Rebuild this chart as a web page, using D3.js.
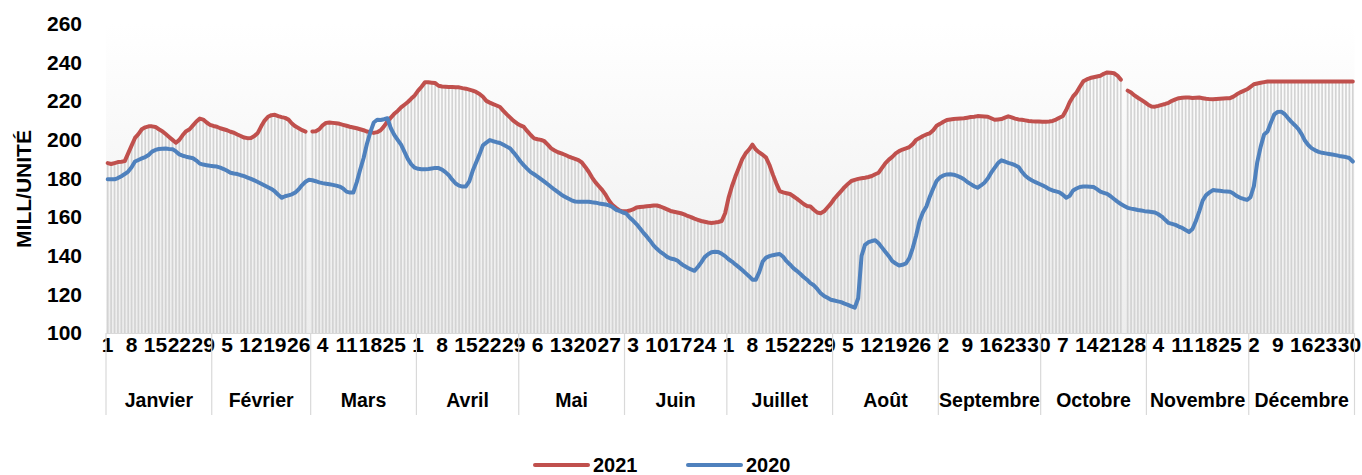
<!DOCTYPE html>
<html>
<head>
<meta charset="utf-8">
<script src="https://cdn.jsdelivr.net/npm/d3@7"></script>
<style>
  body { margin: 0; background: #fff; }
  svg { display: block; font-family: "Liberation Sans", Arial, sans-serif; font-weight: bold; }
</style>
</head>
<body>
<div id="wrapper"></div>
<script>
const monthNames = ["Janvier", "Février", "Mars", "Avril", "Mai", "Juin", "Juillet",
  "Août", "Septembre", "Octobre", "Novembre", "Décembre"];
const monthLengths = [31, 29, 31, 30, 31, 30, 31, 31, 30, 31, 30, 31];
const seriesNames = ["2021", "2020"];
const yTicks = [100, 120, 140, 160, 180, 200, 220, 240, 260];

// one value per day, 366 days (2021 has no 29 Feb, one missing day in October)
const values2021 = [
  // Janvier
  188, 187.5, 188, 188.5, 188.7, 189, 193, 197, 201, 203, 205.5, 206.5, 207, 207, 206.7, 205.5,
  204.5, 203, 201.5, 200, 198.5, 200, 202.5, 204.5, 205.5, 207.5, 209.5, 211, 210.5, 209, 207.8,
  // Février
  207.2, 206.8, 206, 205.5, 205, 204.2, 203.7, 202.8, 202, 201.2, 200.9, 201, 202, 203.6, 207,
  210, 212, 212.8, 213, 212.3, 211.8, 211.4, 210.5, 208.5, 207, 206, 205, 204.3, null,
  // Mars
  204.3, 204.5, 205.5, 207.5, 208.8, 209, 208.8, 208.6, 208.3, 207.8, 207.3, 206.8, 206.4, 206,
  205.5, 205, 204.3, 204, 203.6, 204, 205, 207, 209.5, 211.5, 213.5, 215, 216.8, 218.2, 219.6,
  221.4, 223,
  // Avril
  225.5, 227.5, 229.8, 229.8, 229.6, 229.4, 228, 227.6, 227.5, 227.4, 227.4, 227.3, 227.2, 226.8,
  226.5, 226, 225.5, 224.8, 223.8, 222.3, 220.2, 219.3, 218.5, 217.8, 217, 215, 213.2, 211.5,
  209.8, 208.5,
  // Mai
  207.5, 206.7, 204.5, 202.5, 200.8, 200.3, 200, 199.3, 197.5, 195.6, 194.5, 193.6, 193, 192.3,
  191.5, 190.8, 190.2, 189.5, 188.3, 186, 183.5, 180.5, 178, 176, 174, 171.5, 168.5, 166.2, 164.8,
  163.5, 163,
  // Juin
  163, 163.4, 164, 165, 165.2, 165.4, 165.6, 165.8, 166, 166, 165.5, 164.8, 164, 163.2, 162.8,
  162.4, 162, 161.4, 160.6, 160, 159.2, 158.6, 158, 157.6, 157.2, 157, 157.2, 157.5, 158, 162,
  // Juillet
  170, 176, 181, 185.5, 190, 193, 195, 197.5, 195, 193.5, 192.3, 190.8, 187, 182, 177.5, 173.5,
  172.8, 172.4, 172, 170.8, 169.6, 168.2, 166.8, 165.8, 165.5, 163.8, 162.4, 162, 163, 165, 167,
  // Août
  169.5, 171.5, 173.5, 175.5, 177.2, 178.7, 179.3, 179.8, 180.1, 180.4, 180.8, 181.3, 182.2, 183,
  185.5, 188, 189.8, 191.2, 193, 194.2, 195, 195.6, 196.3, 197.8, 200, 201, 202, 202.8, 203.4,
  205, 207.3,
  // Septembre
  208.3, 209.4, 210.3, 210.6, 210.8, 211, 211.1, 211.2, 211.5, 211.8, 212, 212.3, 212.2, 212.1,
  212, 211.2, 210.4, 210.6, 210.8, 211.5, 212.2, 211.6, 211, 210.6, 210.4, 210.1, 209.8, 209.6,
  209.5, 209.5,
  // Octobre
  209.4, 209.4, 209.5, 209.8, 210.5, 211.5, 212.4, 215.5, 219.5, 222.5, 224.5, 227.5, 230.3,
  231.3, 232, 232.4, 232.8, 233.2, 234.2, 234.9, 234.8, 234.5, 233.3, 231.2, null, 225.5, 224.5,
  223, 221.8, 220.7, 219.5,
  // Novembre
  218.2, 217.3, 217.2, 217.6, 218.1, 218.6, 219.2, 220.2, 221, 221.6, 221.8, 221.9, 221.9, 221.7,
  221.8, 221.9, 221.6, 221.3, 221.1, 221, 221.2, 221.3, 221.4, 221.5, 221.6, 222.4, 223.6, 224.6,
  225.4, 226.2,
  // Décembre
  227.5, 228.8, 229.2, 229.6, 229.9, 230.2, 230.2, 230.2, 230.2, 230.2, 230.2, 230.2, 230.2,
  230.2, 230.2, 230.2, 230.2, 230.2, 230.2, 230.2, 230.2, 230.2, 230.2, 230.2, 230.2, 230.2,
  230.2, 230.2, 230.2, 230.2, 230.2
];

const values2020 = [
  // Janvier
  179.6, 179.6, 179.6, 180.2, 181.2, 182.3, 183.6, 185.8, 188.8, 189.6, 190.4, 191.1, 192.2, 193.9,
  194.8, 195.3, 195.4, 195.5, 195.3, 195.2, 194, 192.5, 191.8, 191.3, 190.9, 190.5, 189.3, 187.7,
  187.2, 186.9, 186.6,
  // Février
  186.4, 186.2, 185.6, 184.9, 184, 183, 182.6, 182.3, 181.7, 181.2, 180.5, 179.8, 179, 178.2,
  177.3, 176.4, 175.5, 174.6, 173.3, 171.6, 170, 170.8, 171.3, 171.8, 172.8, 174.4, 176.6, 178.3,
  179.3,
  // Mars
  179.1, 178.6, 178, 177.6, 177.3, 177, 176.7, 176.3, 175.8, 174.8, 173.2, 172.7, 172.7, 178,
  184.5, 190.5, 198, 204, 209, 210.4, 210.3, 210.7, 211.2, 206, 202.6, 200, 197.5, 193.8, 190,
  187.3, 185.6,
  // Avril
  185, 184.8, 184.8, 184.9, 185.2, 185.5, 185.4, 184.6, 183.3, 181.7, 179.4, 177.4, 176.3, 175.8,
  175.9, 178.5, 184, 188.3, 192.5, 197.2, 198.6, 199.9, 199.3, 198.8, 198.4, 197.5, 196.5, 195.5,
  193.4, 191.2,
  // Mai
  188.8, 186.8, 185, 183.3, 182.2, 181, 179.7, 178.4, 177, 175.6, 174.2, 172.9, 171.6, 170.6,
  169.6, 168.7, 168.1, 168, 168, 168, 168, 167.7, 167.5, 167.1, 166.8, 166.5, 166.1, 165.2, 163.8,
  163.2, 162.4,
  // Juin
  161.9, 159.8, 158.2, 156.4, 154.2, 152, 150, 147.8, 145.4, 143.6, 142, 140.8, 139.4, 138.6,
  138.2, 137.5, 136, 134.8, 133.8, 132.9, 132.2, 134.2, 136.6, 139.3, 140.8, 141.8, 142.1, 142,
  141, 139.8,
  // Juillet
  138.2, 137, 135.5, 134.1, 132.6, 131, 129.4, 127.6, 127.6, 131.5, 137, 139, 139.8, 140.3, 140.6,
  140.9, 139.5, 137.2, 135.5, 133.6, 132.2, 130.7, 129, 127.6, 125.8, 124.7, 122.8, 120.6, 119.2,
  118.2, 117.2,
  // Août
  116.8, 116.4, 116, 115.2, 114.6, 113.8, 113.1, 118, 140, 145.6, 147, 147.6, 148, 146.5, 144.2,
  142, 139.8, 137.2, 136, 135, 135.3, 136, 138.8, 144, 150.5, 158, 162.5, 165.5, 170.6, 174.8,
  178.8,
  // Septembre
  180.6, 181.6, 182.1, 182.2, 182, 181.4, 180.6, 179.6, 178.2, 177.1, 176, 175.2, 176.4, 177.8,
  180, 183, 185.5, 188, 189.4, 188.8, 188.1, 187.6, 186.9, 186, 183.5, 181.4, 180, 179, 178.1,
  177.3,
  // Octobre
  176.5, 175.6, 174.5, 173.8, 173.3, 172.8, 171.6, 170, 171, 173.8, 174.8, 175.6, 175.8, 175.8,
  175.7, 175.6, 174.5, 173.2, 172.6, 172, 170.8, 169.4, 168, 166.8, 165.8, 164.8, 164.4, 164.1,
  163.7, 163.4, 163.1,
  // Novembre
  162.9, 162.7, 162.4, 161.5, 160.3, 158.6, 157, 156.5, 156, 155.1, 154.4, 153.3, 152.3, 153.8,
  158, 163, 168.6, 171.4, 172.8, 174, 173.8, 173.6, 173.4, 173.3, 173.2, 172.2, 170.9, 170,
  169.4, 168.9,
  // Décembre
  170.3, 176, 188.5, 196.5, 202.8, 204.3, 209, 213.2, 214.5, 214.6, 213.4, 211.3, 209.3, 207.6,
  205.7, 203, 199.5, 197.2, 195.6, 194.6, 193.8, 193.3, 193, 192.7, 192.4, 192.1, 191.7, 191.4,
  191.1, 190.6, 188.8
];

const seriesColors = ["#c0504d", "#4f81bd"];

function drawChart() {
  let dimensions = {
    width: 1362,
    height: 475,
    margin: { top: 24, right: 7.5, bottom: 142, left: 106 },
    boundedWidth: 0,
    boundedHeight: 0,
  };
  dimensions.boundedWidth = dimensions.width - dimensions.margin.left - dimensions.margin.right;
  dimensions.boundedHeight = dimensions.height - dimensions.margin.top - dimensions.margin.bottom;

  // every day of the (leap) year, with its month and day of month
  const days = [];
  monthLengths.forEach((len, m) => {
    d3.range(1, len + 1).forEach(d => days.push({ month: m, day: d }));
  });
  const monthStarts = d3.cumsum([0, ...monthLengths]);

  const wrapper = d3.select("#wrapper")
    .append("svg")
    .attr("width", dimensions.width)
    .attr("height", dimensions.height);

  const defs = wrapper.append("defs");
  const grad = defs.append("linearGradient")
    .attr("id", "plotBg")
    .attr("x1", 0).attr("y1", 0).attr("x2", 0).attr("y2", 1);
  grad.append("stop").attr("offset", "0%").attr("stop-color", "#ffffff");
  grad.append("stop").attr("offset", "100%").attr("stop-color", "#ededed");

  const bounds = wrapper.append("g")
    .attr("transform", `translate(${dimensions.margin.left},${dimensions.margin.top})`);

  const xScale = d3.scaleBand()
    .domain(d3.range(days.length))
    .range([0, dimensions.boundedWidth]);
  const bw = xScale.bandwidth();
  const xCenter = i => xScale(i) + bw / 2;

  const yScale = d3.scaleLinear()
    .domain([100, 260])
    .range([dimensions.boundedHeight, 0]);

  bounds.append("rect")
    .attr("width", dimensions.boundedWidth)
    .attr("height", dimensions.boundedHeight)
    .attr("fill", "url(#plotBg)");

  // thin grey columns under the 2021 curve
  const barData = values2021.map((v, i) => ({ i, v })).filter(d => d.v != null);
  bounds.append("g")
    .selectAll("rect")
    .data(barData)
    .join("rect")
    .attr("x", d => xScale(d.i) + bw * 0.25)
    .attr("width", bw * 0.5)
    .attr("y", d => yScale(d.v))
    .attr("height", d => yScale(100) - yScale(d.v))
    .attr("fill", "#d3d3d3");

  // y axis
  const yAxis = bounds.append("g")
    .call(d3.axisLeft(yScale).tickValues(yTicks).tickSize(0).tickPadding(24));
  yAxis.select(".domain").remove();
  yAxis.selectAll("text")
    .attr("font-size", 21)
    .attr("font-family", null)
    .attr("fill", "#000");

  wrapper.append("text")
    .attr("transform", "translate(31,189) rotate(-90)")
    .attr("text-anchor", "middle")
    .attr("font-size", 21)
    .text("MILL/UNITÉ");

  // x axis: day numbers every week
  bounds.append("line")
    .attr("x1", 0).attr("x2", dimensions.boundedWidth)
    .attr("y1", dimensions.boundedHeight + 0.5).attr("y2", dimensions.boundedHeight + 0.5)
    .attr("stroke", "#d9d9d9");

  const xAxis = bounds.append("g")
    .attr("transform", `translate(0,${dimensions.boundedHeight})`)
    .call(d3.axisBottom(xScale)
      .tickValues(d3.range(0, days.length, 7))
      .tickFormat(i => days[i].day)
      .tickSize(0)
      .tickPadding(19));
  xAxis.select(".domain").remove();
  xAxis.selectAll("text")
    .attr("font-size", 21)
    .attr("font-family", null)
    .attr("dy", null)
    .attr("fill", "#000");

  // month separators and names
  const monthG = bounds.append("g")
    .attr("transform", `translate(0,${dimensions.boundedHeight})`);
  monthG.selectAll("line")
    .data(monthStarts)
    .join("line")
    .attr("x1", d => d < days.length ? xScale(d) : dimensions.boundedWidth)
    .attr("x2", d => d < days.length ? xScale(d) : dimensions.boundedWidth)
    .attr("y1", 0)
    .attr("y2", 82)
    .attr("stroke", "#d9d9d9")
    .attr("stroke-width", 1.2);
  monthG.selectAll("text")
    .data(monthNames)
    .join("text")
    .attr("x", (d, m) => (xScale(monthStarts[m]) + xScale(monthStarts[m + 1] - 1) + bw) / 2)
    .attr("y", 74)
    .attr("text-anchor", "middle")
    .attr("font-size", 19.5)
    .text(d => d);

  // lines
  const lineGen = d3.line()
    .defined(d => d != null)
    .x((d, i) => xCenter(i))
    .y(d => yScale(d));

  [values2021, values2020].forEach((vals, k) => {
    bounds.append("path")
      .datum(vals)
      .attr("d", lineGen)
      .attr("fill", "none")
      .attr("stroke", seriesColors[k])
      .attr("stroke-width", 4)
      .attr("stroke-linejoin", "round")
      .attr("stroke-linecap", "round");
  });

  // legend
  const legend = wrapper.append("g").attr("transform", "translate(0,465)");
  const legendX = [535, 688];
  seriesNames.forEach((name, k) => {
    legend.append("line")
      .attr("x1", legendX[k]).attr("x2", legendX[k] + 53)
      .attr("y1", 0).attr("y2", 0)
      .attr("stroke", seriesColors[k])
      .attr("stroke-width", 4)
      .attr("stroke-linecap", "round");
    legend.append("text")
      .attr("x", legendX[k] + 58)
      .attr("y", 7)
      .attr("font-size", 20)
      .text(name);
  });
}

drawChart();
</script>
</body>
</html>
